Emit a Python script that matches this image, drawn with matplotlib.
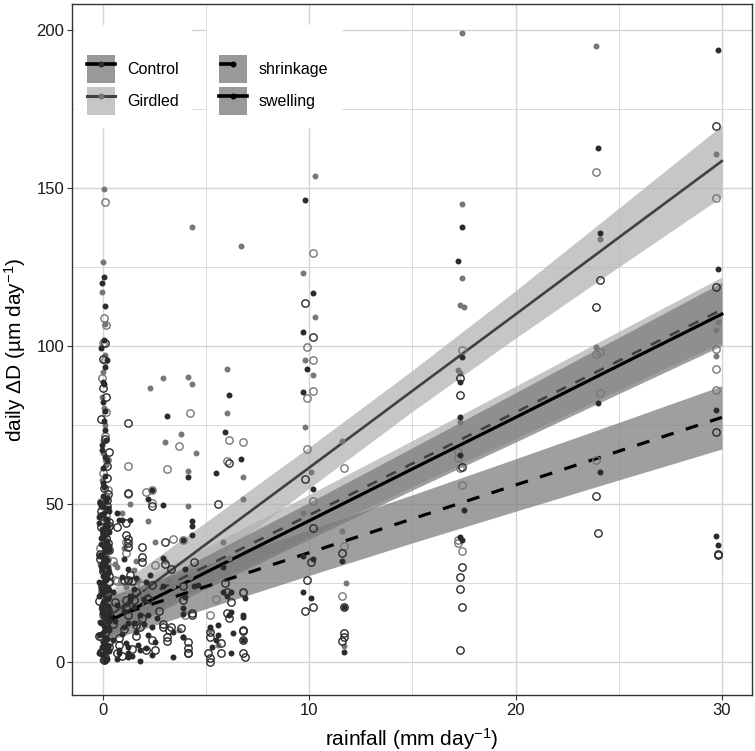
import numpy as np
import matplotlib
matplotlib.use("Agg")
import matplotlib.pyplot as plt
from matplotlib.patches import Patch
from matplotlib.lines import Line2D
from matplotlib.ticker import MultipleLocator

plt.rcParams['font.family'] = ['Liberation Sans', 'DejaVu Sans']
plt.rcParams['mathtext.fontset'] = 'custom'
plt.rcParams['mathtext.rm'] = 'Liberation Sans'
plt.rcParams['mathtext.it'] = 'Liberation Sans:italic'

# ---- datos ----
# Control / swelling (puntos negros rellenos)
ctrl_swell_rain = [0.05, -0.05, 0.1, 0.05, 0.1, 0.0, 0.05, 0.1, -0.05, 0.1, 0.0, 0.05,
                   0.0, 0.15, -0.1, 0.25, 0.05, -0.2, 0.2, 0.1, -0.05, 0.3, 0.0, 0.15, -0.1, 0.25,
                   0.05, -0.2, 0.2, 0.1, -0.05, 0.3, 0.0, 0.15, -0.1, 0.25, 0.05, -0.2, 0.2, 0.1,
                   -0.05, 0.3, 0.0, 0.15, -0.1, 0.25, 0.05, -0.2, 0.2, 0.1, -0.05, 0.3, 0.0, 0.15,
                   0.1, -0.15, 0.2, 0.0, 0.3, -0.1, 0.05, 0.25, -0.05, 0.15, 0.0, 0.2, -0.2, 0.1,
                   0.3, 0.05, -0.1, 0.2, 0.0, 0.15,
                   0.2, -0.15, 0.05, 0.3, -0.05, 0.15, -0.2, 0.25, 0.0, 0.1, -0.1, 0.2, 0.05, 0.3,
                   -0.15, 0.15, 0.0, 0.25, -0.05, 0.1, 0.2, -0.2, 0.05, 0.3, -0.1, 0.15, 0.0, 0.25,
                   -0.05, 0.1, 0.2, -0.15, 0.05, 0.3, -0.1, 0.15, 0.0, 0.25, 0.1, -0.05,
                   0.1, 0.0, 0.2, -0.05, 0.15, 0.05, 0.1, 0.0, 0.2, -0.1,
                   0.5, 0.7, 0.9, 1.1, 1.4, 1.6, 0.6, 0.8, 1.0, 1.3, 1.7, 2.0, 0.5, 0.9, 1.2,
                   1.5, 2.1, 2.6, 0.7, 1.0,
                   29.8, 29.8, 29.7, 29.7, 29.8, 24.0, 24.1, 24.0, 24.1,
                   17.4, 17.2, 17.4, 17.3, 17.3, 17.3, 17.4, 17.3, 17.5,
                   9.8, 10.2, 9.7, 9.9, 9.7, 10.2, 9.7, 10.2, 9.7, 10.1,
                   11.6, 11.7, 11.7,
                   6.1, 3.1, 5.9, 4.1, 5.5, 6.7, 2.4, 2.2, 2.9, 1.3, 0.8, 4.3, 4.3, 3.9, 4.3,
                   1.0, 2.9, 4.0, 2.3, 2.9, 4.4, 4.6, 4.0, 3.9, 1.3, 2.0, 1.5, 1.8, 2.2, 1.5,
                   2.4, 3.4, 3.9, 1.8, 1.2, 1.2, 0.8, 1.8, 3.4, 2.4, 5.2, 5.3, 5.6, 5.6, 6.1,
                   6.3, 6.2, 6.8, 6.9, 6.0, 5.8, 0.7, 0.9, 1.2, 1.6, 2.1, 3.9, 5.8, 6.2, 6.2,
                   6.8, 5.5, 6.8, 2.5, 2.2, 3.9, 1.2]
ctrl_swell_dD = [121.8, 120.0, 112.7, 102.0, 93.4, 88.6, 88.0, 73.4, 68.7, 65.0, 56.5, 55.4,
                 52.5, 51.0, 49.8, 48.6, 47.1, 46.0, 44.7, 43.5, 42.2, 41.0, 39.6, 38.4, 37.3, 35.9,
                 34.8, 33.5, 32.2, 31.0, 29.7, 28.4, 27.3, 26.0, 24.8, 23.5, 22.1, 21.0, 19.8, 18.5,
                 17.2, 16.0, 14.7, 13.5, 12.2, 11.0, 9.8, 8.5, 7.3, 6.0, 4.8, 3.5, 2.3, 1.1,
                 0.2, 50.3, 45.2, 40.1, 36.6, 30.5, 25.7, 20.3, 15.4, 10.4, 5.2, 0.8, 3.0, 8.0,
                 13.0, 18.0, 23.0, 28.0, 33.0, 43.0,
                 51.8, 50.6, 49.2, 47.9, 46.6, 45.4, 44.1, 42.9, 41.6, 40.3, 39.1, 37.9, 36.5, 35.3,
                 34.0, 32.8, 31.5, 30.2, 29.0, 27.7, 26.5, 25.2, 24.0, 22.7, 21.4, 20.2, 18.9, 17.7,
                 16.4, 15.2, 13.9, 12.7, 11.4, 10.1, 8.9, 7.6, 6.4, 5.1, 3.9, 2.6,
                 58.7, 61.5, 63.8, 67.2, 70.1, 76.4, 79.5, 82.3, 95.7, 99.2,
                 22.0, 18.0, 9.0, 6.0, 2.0, 9.5, 13.0, 3.0, 16.0, 21.0, 5.5, 12.0, 7.0, 27.0, 1.5,
                 23.0, 4.5, 14.0, 0.8, 11.0,
                 193.7, 124.4, 79.7, 39.9, 37.0, 162.7, 135.7, 82.0, 60.0,
                 137.7, 126.9, 96.5, 88.6, 77.5, 65.5, 38.6, 39.6, 48.0,
                 146.2, 116.8, 104.3, 92.8, 85.3, 54.7, 33.5, 32.6, 22.1, 20.2,
                 31.9, 17.3, 3.1,
                 84.5, 77.8, 72.8, 58.5, 59.8, 64.2, 54.4, 51.6, 49.7, 44.9, 45.0, 44.6, 43.0, 38.6, 40.2,
                 32.6, 32.9, 29.4, 27.5, 24.0, 24.0, 24.4, 20.6, 17.0, 19.6, 19.6, 17.4, 14.9, 14.9, 12.3,
                 11.0, 9.5, 7.9, 3.8, 4.7, 2.8, 3.8, 0.3, 1.6, 2.2, 11.0, 4.7, 8.5, 11.7, 14.9,
                 9.2, 2.8, 14.2, 20.2, 21.0, 30.0, 47.0, 45.0, 29.4, 26.5, 25.3, 15.2, 22.0, 22.0, 15.8,
                 15.0, 7.0, 7.0, 6.3, 8.5, 8.0, 12.4]

# Control / shrinkage (circulos negros abiertos)
ctrl_shr_rain = [0.1, 0.0, 0.15, -0.1, 0.05, 0.2, 0.1, 0.0,
                 0.2, -0.1, 0.3, 0.05, 0.25, -0.15, 0.1, 0.3, -0.05, 0.2, 0.0, 0.25, 0.15, -0.2,
                 0.3, 0.1, 0.05, 0.2, -0.1, 0.3, 0.0, 0.25, 0.15, 0.1, -0.05,
                 0.25, -0.1, 0.3, 0.15, -0.15, 0.2, 0.3, 0.05, -0.2, 0.25, 0.1, 0.3, -0.1, 0.2, 0.3,
                 0.5, 0.8, 1.1, 1.4, 1.9, 2.2, 0.6, 1.0, 1.6, 2.7, 0.9, 1.3,
                 29.7, 29.7, 29.7, 29.8, 29.8, 24.1, 23.9, 23.9, 24.0,
                 17.3, 17.3, 17.4, 17.4, 17.3, 17.3, 17.4, 17.3,
                 9.8, 10.2, 9.8, 10.2, 10.1, 9.9, 9.8, 10.2,
                 11.6, 11.7, 11.7, 11.7, 11.6,
                 1.2, 6.1, 2.4, 5.6, 1.1, 1.2, 1.2, 3.0, 1.9, 1.9, 1.9, 3.0, 3.3, 1.0, 1.2,
                 1.4, 2.4, 3.9, 1.5, 1.1, 1.2, 1.8, 2.9, 3.3, 3.1, 3.8, 4.1, 4.1, 4.1, 2.4,
                 2.5, 5.2, 5.2, 5.1, 5.2, 5.2, 5.7, 5.7, 6.0, 6.1, 6.8, 6.8, 6.8, 6.9, 6.8,
                 5.9, 4.4, 3.9, 4.3, 4.3, 6.0, 6.2, 6.8, 0.7, 0.8, 2.1, 3.1, 4.1, 1.6, 1.6,
                 3.2, 0.7, 1.2, 1.2, 2.9, 1.1]
ctrl_shr_dD = [101.0, 86.7, 84.0, 77.0, 55.0, 62.0, 70.6, 96.0,
               51.4, 47.8, 44.2, 40.9, 37.8, 34.1, 30.2, 27.1, 23.9, 20.6, 17.7, 14.2, 11.3, 8.1,
               4.6, 1.7, 0.5, 49.5, 42.8, 35.5, 28.8, 21.8, 15.3, 9.2, 2.8,
               53.3, 46.1, 43.1, 39.3, 32.6, 29.1, 25.4, 22.8, 19.2, 16.5, 12.7, 6.4, 3.3, 58.2, 66.5,
               12.0, 7.5, 17.0, 4.0, 14.0, 20.0, 19.0, 10.5, 22.0, 16.0, 1.8, 27.5,
               169.6, 118.7, 72.8, 33.9, 34.3, 121.0, 112.3, 52.5, 40.8,
               90.0, 84.5, 61.7, 30.0, 27.0, 23.0, 17.4, 3.8,
               113.7, 102.8, 57.9, 42.4, 31.5, 26.0, 16.1, 17.3,
               34.4, 17.3, 9.2, 7.9, 6.7,
               75.6, 63.0, 49.4, 50.0, 40.2, 37.6, 36.4, 38.0, 36.4, 33.2, 31.6, 31.0, 29.4, 26.0, 25.8,
               25.6, 24.4, 24.0, 19.6, 19.6, 14.9, 11.0, 11.0, 11.0, 7.9, 10.8, 6.3, 4.4, 2.8, 7.0,
               3.8, 9.5, 7.9, 2.8, 1.3, 0.0, 6.0, 2.8, 15.5, 13.8, 10.0, 7.0, 2.8, 1.6, 22.0,
               25.0, 31.6, 19.6, 15.5, 15.0, 22.0, 19.0, 9.8, 2.8, 5.4, 3.8, 6.6, 2.8, 8.2, 11.7,
               10.0, 42.7, 39.0, 53.5, 12.0, 44.0]

# Girdled / swelling (puntos grises rellenos)
gird_swell_rain = [0.05, 0.0, -0.05, 0.1, 0.0, -0.05, 0.05, 0.1, 0.0, 0.15, -0.05, 0.1, 0.0,
                   0.2, -0.1, 0.1, 0.25, 0.0, 0.15, -0.15, 0.2, 0.05, 0.3, -0.1, 0.1, 0.2, 0.0, 0.15, -0.05,
                   29.7, 29.8, 29.7, 29.7, 23.9, 24.1, 23.9,
                   17.4, 17.4, 17.4, 17.3, 17.5, 17.2, 17.3, 17.3,
                   10.3, 9.7, 10.3, 9.8, 10.2, 9.8, 10.1, 9.7,
                   11.6, 11.6, 11.8, 11.7,
                   2.3, 2.9, 4.1, 4.3, 6.0, 6.0, 3.0, 3.8, 4.1, 6.8, 6.8, 1.3, 4.1, 2.2, 2.5,
                   1.0, 1.6, 0.7, 1.7, 1.1, 3.0, 3.2, 3.4, 3.7, 3.9, 4.2, 5.2, 5.6, 3.7, 1.5,
                   0.6, 5.8, 6.1, 4.5, 0.9, 4.3, 6.7]
gird_swell_dD = [149.7, 126.6, 117.0, 97.0, 91.8, 83.7, 80.4, 75.0, 66.0, 62.3, 57.6, 107.0, 70.0,
                 53.0, 49.0, 45.0, 41.5, 38.0, 34.5, 31.0, 27.5, 24.0, 20.5, 17.0, 13.5, 10.0, 6.5, 3.0, 0.5,
                 160.8, 107.6, 105.0, 96.8, 195.0, 134.0, 99.7,
                 199.0, 145.0, 121.5, 113.0, 112.3, 92.4, 91.5, 76.0,
                 153.9, 123.2, 109.2, 95.6, 90.8, 74.4, 60.0, 47.3,
                 70.0, 41.5, 25.0, 5.0,
                 86.7, 89.9, 90.2, 88.0, 92.7, 78.8, 69.6, 72.2, 60.4, 58.5, 51.6, 50.0, 49.4, 44.6, 38.0,
                 36.0, 32.0, 30.0, 26.0, 23.7, 32.0, 26.0, 24.0, 25.0, 24.0, 27.0, 10.0, 5.5, 10.0, 29.0,
                 31.0, 38.0, 33.0, 66.0, 47.0, 137.6, 131.6]

# Girdled / shrinkage (circulos grises abiertos)
gird_shr_rain = [0.1, 0.05, 0.15, 0.0, 0.1, -0.05, 0.15, 0.1, 0.2, 0.0,
                 0.25, -0.1, 0.15, 0.3, 0.05, -0.15, 0.2, 0.1, 0.3, -0.05, 0.25, 0.0, 0.15, -0.1, 0.2, 0.1,
                 29.7, 29.7, 29.7, 29.7, 23.9, 24.1, 23.9, 24.1, 23.9,
                 17.4, 17.2, 17.2, 17.3, 17.4, 17.2, 17.2, 17.4,
                 10.2, 9.9, 10.2, 10.2, 9.9, 9.9, 10.2,
                 11.7, 11.7, 11.6,
                 4.2, 3.7, 6.1, 6.8, 1.2, 3.1, 6.0, 1.2, 2.1, 2.4, 2.4, 3.9, 1.1, 1.1, 3.4,
                 0.7, 0.9, 1.2, 1.9, 2.5, 5.2, 6.8, 1.5, 2.1, 0.5, 0.6, 2.0, 5.5, 4.0]
gird_shr_dD = [145.6, 109.0, 106.6, 101.0, 95.6, 90.0, 79.0, 71.5, 64.0, 59.8,
               54.5, 50.5, 46.5, 43.0, 39.5, 36.0, 32.5, 29.0, 25.5, 22.0, 18.5, 15.0, 11.5, 8.0, 4.5, 1.0,
               146.8, 99.0, 92.7, 86.0, 155.0, 98.0, 97.5, 85.0, 64.0,
               98.7, 66.5, 64.6, 61.4, 56.0, 38.6, 37.5, 35.0,
               129.3, 99.7, 95.6, 85.8, 83.5, 67.4, 51.0,
               61.5, 36.7, 20.9,
               78.8, 68.4, 70.3, 69.6, 62.0, 61.0, 63.6, 53.2, 53.8, 54.4, 50.3, 38.6, 38.0, 34.5, 39.0,
               25.6, 25.6, 25.6, 24.5, 30.7, 15.0, 21.8, 25.5, 18.0, 32.0, 26.0, 23.0, 20.0, 15.0]

# ajustes lineales (valor ajustado y semiancho del intervalo) en rain_fit
rain_fit = [0, 2, 5, 10, 15, 20, 25, 30]
ctrl_swell_fit = [12.0, 18.5, 28.4, 44.7, 61.1, 77.4, 93.8, 110.1]
ctrl_swell_hw = [5.0, 5.0, 5.2, 5.8, 6.7, 7.8, 8.9, 10.0]
ctrl_shr_fit = [13.2, 17.5, 23.9, 34.6, 45.3, 56.0, 66.7, 77.4]
ctrl_shr_hw = [7.0, 7.0, 7.0, 7.2, 7.6, 8.3, 9.1, 10.0]
gird_swell_fit = [13.0, 22.7, 37.3, 61.5, 85.8, 110.0, 134.3, 158.5]
gird_swell_hw = [8.0, 7.5, 7.0, 6.5, 6.5, 7.5, 9.3, 11.3]
gird_shr_fit = [14.0, 20.5, 30.3, 46.5, 62.8, 79.0, 95.3, 111.5]
gird_shr_hw = [6.0, 6.0, 6.0, 6.5, 7.3, 8.3, 9.3, 10.3]

x_ticks = [0, 10, 20, 30]
y_ticks = [0, 50, 100, 150, 200]

CTRL_COL = '#2b2b2b'
GIRD_COL = '#777777'
CTRL_LINE = '#000000'
GIRD_LINE = '#404040'
CTRL_FILL = '#7a7a7a'
GIRD_FILL = '#b0b0b0'
GRID_COL = '#d4d4d4'

fig = plt.figure(figsize=(7.55, 7.51), dpi=100)
ax = fig.add_axes([72 / 755, 56 / 751, 680 / 755, 691 / 751])

# bandas de confianza
def banda(fit, hw, color):
    fit = np.array(fit)
    hw = np.array(hw)
    ax.fill_between(rain_fit, fit - hw, fit + hw, color=color, alpha=0.72, lw=0, zorder=2)

banda(gird_swell_fit, gird_swell_hw, GIRD_FILL)
banda(gird_shr_fit, gird_shr_hw, GIRD_FILL)
banda(ctrl_swell_fit, ctrl_swell_hw, CTRL_FILL)
banda(ctrl_shr_fit, ctrl_shr_hw, CTRL_FILL)

dash = (0, (4, 4))
ax.plot(rain_fit, gird_swell_fit, color=GIRD_LINE, lw=1.9, zorder=3)
ax.plot(rain_fit, gird_shr_fit, color=GIRD_LINE, lw=1.9, ls=dash, zorder=3)
ax.plot(rain_fit, ctrl_swell_fit, color=CTRL_LINE, lw=2.3, zorder=3)
ax.plot(rain_fit, ctrl_shr_fit, color=CTRL_LINE, lw=2.3, ls=dash, zorder=3)

# puntos
ax.plot(gird_swell_rain, gird_swell_dD, 'o', color=GIRD_COL, ms=4.3, mew=0, zorder=4)
ax.plot(gird_shr_rain, gird_shr_dD, 'o', mfc='none', mec=GIRD_COL, ms=5.3, mew=1.0, zorder=4)
ax.plot(ctrl_shr_rain, ctrl_shr_dD, 'o', mfc='none', mec=CTRL_COL, ms=5.3, mew=1.0, zorder=4)
ax.plot(ctrl_swell_rain, ctrl_swell_dD, 'o', color=CTRL_COL, ms=4.3, mew=0, zorder=4)

ax.set_xlim(-1.5, 31.46)
ax.set_ylim(-10.44, 208.2)
ax.set_xticks(x_ticks)
ax.set_yticks(y_ticks)
ax.xaxis.set_minor_locator(MultipleLocator(5))
ax.yaxis.set_minor_locator(MultipleLocator(25))
ax.grid(which='major', color=GRID_COL, lw=1.0)
ax.grid(which='minor', color=GRID_COL, lw=0.6)
ax.set_axisbelow(True)
ax.tick_params(which='minor', length=0)
ax.tick_params(which='major', length=3.5, width=0.8, color='#333333',
               labelsize=12, labelcolor='#1a1a1a', pad=2)
for s in ax.spines.values():
    s.set_color('#333333')
    s.set_linewidth(1.0)

ax.set_xlabel('rainfall (mm day$^{\\mathrm{-1}}$)', fontsize=15, labelpad=6)
ax.set_ylabel('daily \u0394D (\u00b5m day$^{\\mathrm{-1}}$)', fontsize=15, labelpad=6)

# leyendas
h_ctrl = (Patch(facecolor='#999999', lw=0),
          Line2D([], [], color=CTRL_LINE, lw=2.6, marker='o', ms=4.3, mfc=CTRL_COL, mew=0))
h_gird = (Patch(facecolor='#c6c6c6', lw=0),
          Line2D([], [], color=GIRD_LINE, lw=2.2, marker='o', ms=4.3, mfc=GIRD_COL, mew=0))
h_shr = (Patch(facecolor='#999999', lw=0),
         Line2D([], [], color=CTRL_LINE, lw=2.6, ls=dash, marker='o', ms=4.3, mew=0))
h_sw = (Patch(facecolor='#999999', lw=0),
        Line2D([], [], color=CTRL_LINE, lw=2.6, marker='o', ms=4.3, mew=0))

opts = dict(loc='upper left', fontsize=11.5, frameon=True, fancybox=False, framealpha=1,
            edgecolor='white', facecolor='white', handlelength=1.76, handleheight=2.32,
            labelspacing=0.25, handletextpad=0.75, borderpad=0.75, borderaxespad=0,
            title=' ', title_fontsize=10)
leg1 = ax.legend([h_ctrl, h_gird], ['Control', 'Girdled'],
                 bbox_to_anchor=(0.0044, 0.97), **opts)
leg1.set_zorder(10)
ax.add_artist(leg1)
leg2 = ax.legend([h_shr, h_sw], ['shrinkage', 'swelling'],
                 bbox_to_anchor=(0.1985, 0.97), **opts)
leg2.set_zorder(10)

fig.savefig('out.png', dpi=100)
